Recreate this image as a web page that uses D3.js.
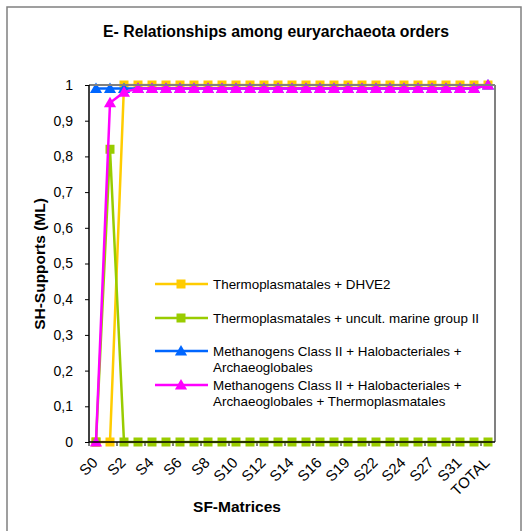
<!DOCTYPE html>
<html><head><meta charset="utf-8">
<script src="https://cdn.jsdelivr.net/npm/d3@7"></script>
<style>body{margin:0;background:#fff;} svg{display:block;font-family:"Liberation Sans",Arial,sans-serif;}</style>
</head><body><svg id="c" width="531" height="531"></svg>
<script>
const categories = ["S0","S1","S2","S3","S4","S5","S6","S7","S8","S9","S10","S11","S12","S13","S14","S15","S16","S18","S19","S21","S22","S23","S24","S26","S27","S29","S31","S32","TOTAL"];
const tickLabels = ["S0","S2","S4","S6","S8","S10","S12","S14","S16","S19","S22","S24","S27","S31","TOTAL"];
const yTicks = [0,0.1,0.2,0.3,0.4,0.5,0.6,0.7,0.8,0.9,1];
const seriesNames = ["Thermoplasmatales + DHVE2","Thermoplasmatales + uncult. marine group II","Methanogens Class II + Halobacteriales + Archaeoglobales","Methanogens Class II + Halobacteriales + Archaeoglobales + Thermoplasmatales"];
const dhve2 = [0,0,1,1,1,1,1,1,1,1,1,1,1,1,1,1,1,1,1,1,1,1,1,1,1,1,1,1,1];
const marineII = [0,0.82,0,0,0,0,0,0,0,0,0,0,0,0,0,0,0,0,0,0,0,0,0,0,0,0,0,0,0];
const methHaloArch = [0.99,0.99,0.99,0.99,0.99,0.99,0.99,0.99,0.99,0.99,0.99,0.99,0.99,0.99,0.99,0.99,0.99,0.99,0.99,0.99,0.99,0.99,0.99,0.99,0.99,0.99,0.99,0.99,1];
const methHaloArchThermo = [0,0.95,0.98,0.99,0.99,0.99,0.99,0.99,0.99,0.99,0.99,0.99,0.99,0.99,0.99,0.99,0.99,0.99,0.99,0.99,0.99,0.99,0.99,0.99,0.99,0.99,0.99,0.99,1];
const colors = ["#FFCC00","#99CC00","#0066FF","#FF00FF"];
const markers = ["square","square","triangle","triangle"];
const legendLines = [["Thermoplasmatales + DHVE2"],["Thermoplasmatales + uncult. marine group II"],["Methanogens Class II + Halobacteriales +","Archaeoglobales"],["Methanogens Class II + Halobacteriales +","Archaeoglobales + Thermoplasmatales"]];

const svg = d3.select("#c");
const L = 89, R = 495, T = 85, B = 442;

// outer border
svg.append("rect").attr("x",7).attr("y",7).attr("width",514).attr("height",540)
  .attr("fill","none").attr("stroke","#808080").attr("stroke-width",1.5);

const x = d3.scaleBand().domain(categories).range([L,R]).padding(0);
const y = d3.scaleLinear().domain([0,1]).range([B,T]);
const cx = d => x(d) + x.bandwidth()/2;

// title
svg.append("text").attr("x",276).attr("y",37).attr("text-anchor","middle")
  .attr("font-weight","bold").attr("font-size",15.8).text("E- Relationships among euryarchaeota orders");

// y axis
const yAxis = d3.axisLeft(y).tickValues(yTicks).tickSize(4).tickPadding(12)
  .tickFormat(d => d3.format(".1f")(d).replace(".",",").replace(/^0,0$/,"0").replace(/^1,0$/,"1"));
const gy = svg.append("g").attr("transform",`translate(${L},0)`).call(yAxis);
gy.select(".domain").remove();
gy.selectAll("text").attr("font-size",14).attr("fill","#000").attr("font-family","Liberation Sans, Arial, sans-serif");
gy.selectAll("line").attr("stroke","#000");

// x axis ticks at boundaries every two categories
const bounds = [];
for (let i = 0; i <= categories.length; i += 2) bounds.push(L + i * x.bandwidth());
svg.append("g").selectAll("line").data(bounds).join("line")
  .attr("x1",d=>d).attr("x2",d=>d).attr("y1",B).attr("y2",B+4).attr("stroke","#000");

// x labels
svg.append("g").selectAll("text").data(tickLabels).join("text")
  .attr("transform",d=>`translate(${cx(d)-5},${B+14}) rotate(-45)`)
  .attr("text-anchor","end").attr("dy","0.71em").attr("font-size",15).text(d=>d);

// axis titles
svg.append("text").attr("transform","translate(45,264) rotate(-90)").attr("text-anchor","middle")
  .attr("font-weight","bold").attr("font-size",15.5).text("SH-Supports (ML)");
svg.append("text").attr("x",237).attr("y",512).attr("text-anchor","middle")
  .attr("font-weight","bold").attr("font-size",15.5).text("SF-Matrices");

// series
const allSeries = [dhve2, marineII, methHaloArch, methHaloArchThermo];
const line = d3.line().x((d,i)=>cx(categories[i])).y(d=>y(d));
const tri = d3.symbol().type(d3.symbolTriangle).size(64);
function marker(g, type, color, px, py){
  if (type === "square") {
    g.append("rect").attr("x",px-4.5).attr("y",py-4.5).attr("width",9).attr("height",9).attr("fill",color);
  } else {
    g.append("path").attr("d",tri()).attr("transform",`translate(${px},${py+1})`).attr("fill",color);
  }
}
allSeries.forEach((vals,k)=>{
  const g = svg.append("g");
  g.append("path").datum(vals).attr("d",line).attr("fill","none").attr("stroke",colors[k]).attr("stroke-width",2.5);
  vals.forEach((v,i)=> marker(g, markers[k], colors[k], cx(categories[i]), y(v)));
});

// plot area border top & right (gray), axes black
svg.append("line").attr("x1",L).attr("x2",R).attr("y1",T).attr("y2",T).attr("stroke","#808080").attr("stroke-width",2);
svg.append("line").attr("x1",R).attr("x2",R).attr("y1",T).attr("y2",B).attr("stroke","#808080").attr("stroke-width",2);
svg.append("line").attr("x1",L).attr("x2",L).attr("y1",T).attr("y2",B).attr("stroke","#000").attr("stroke-width",1.5);
svg.append("line").attr("x1",L).attr("x2",R).attr("y1",B).attr("y2",B).attr("stroke","#000").attr("stroke-width",1.5);

// legend
const legY = [284, 318, 351, 385];
legendLines.forEach((lines,k)=>{
  const g = svg.append("g");
  g.append("line").attr("x1",155).attr("x2",208).attr("y1",legY[k]).attr("y2",legY[k]).attr("stroke",colors[k]).attr("stroke-width",2.5);
  marker(g, markers[k], colors[k], 181, legY[k]);
  lines.forEach((t,j)=> g.append("text").attr("x",213).attr("y",legY[k]+j*16).attr("dy","0.35em").attr("font-size",13.4).text(t));
});
</script></body></html>
